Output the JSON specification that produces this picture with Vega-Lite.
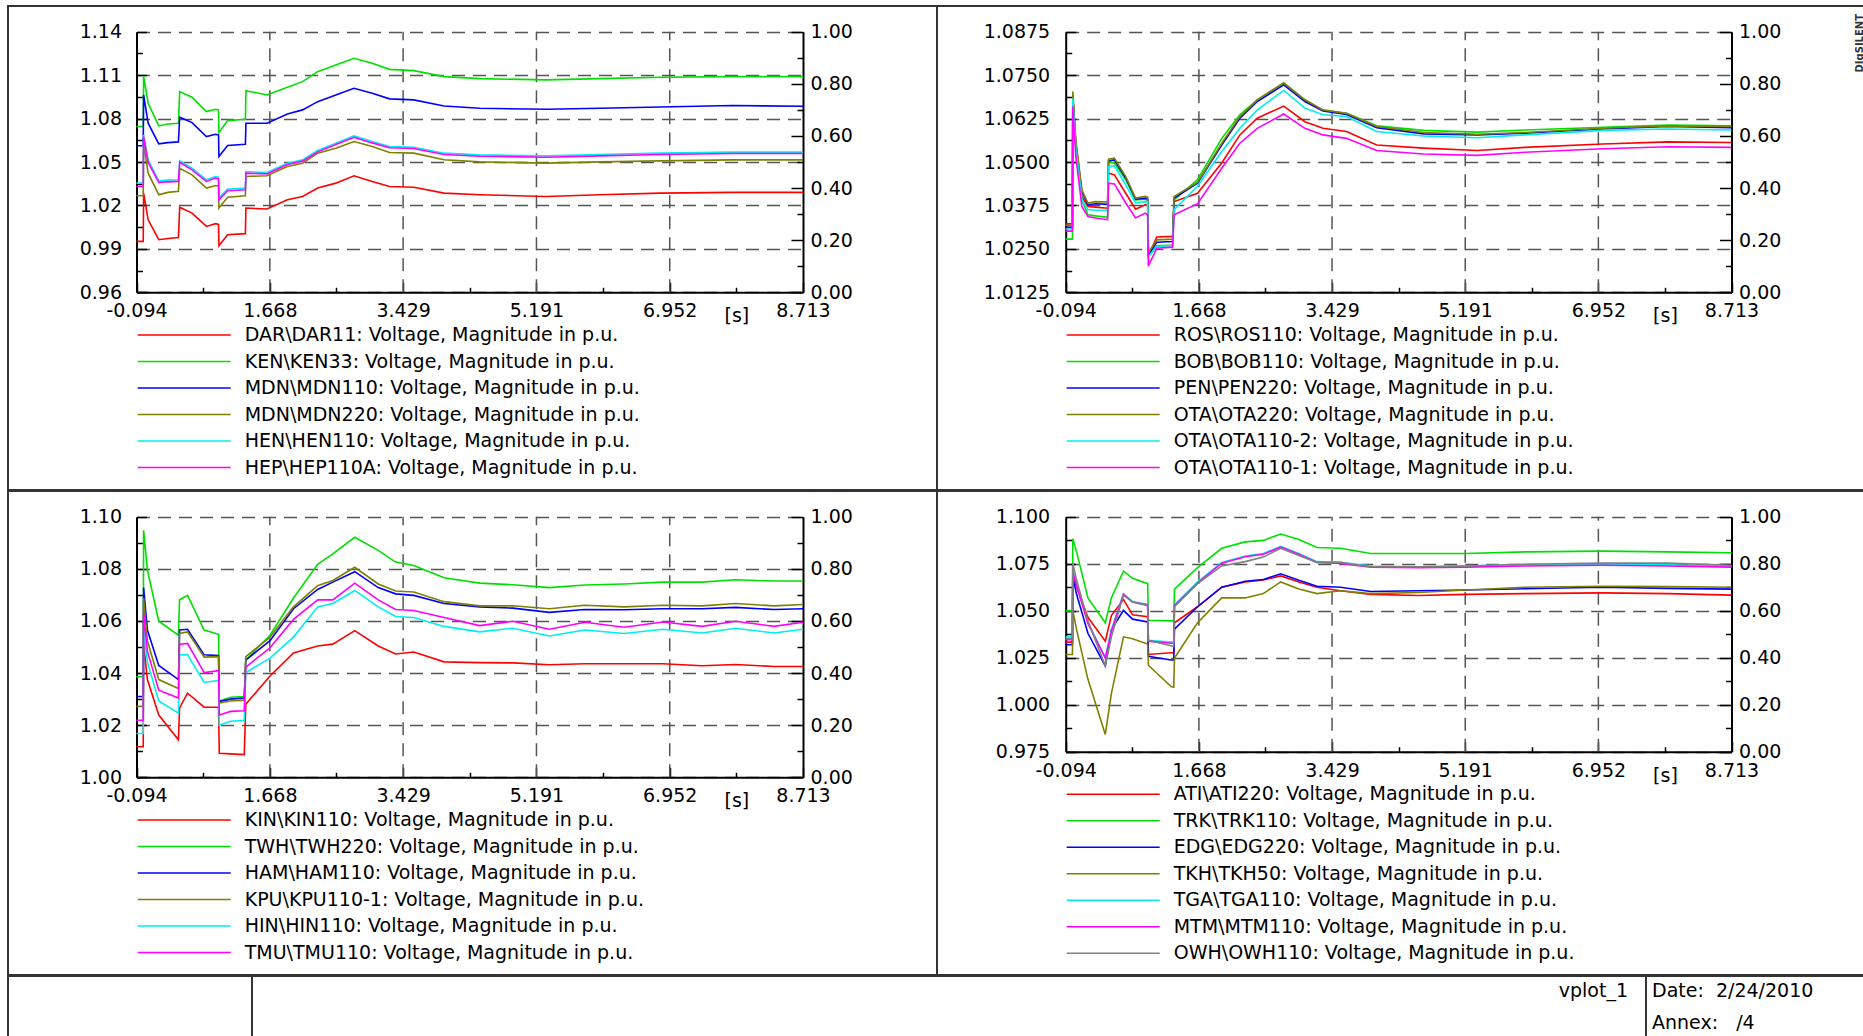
{
"$schema": "https://vega.github.io/schema/vega-lite/v6.json",
"background": "white",
"padding": {"left": 7, "top": 5, "right": 0, "bottom": 0},
"config": {
  "view": {"stroke": "#333333", "strokeWidth": 2},
  "axis": {"labelFont": "DejaVu Sans", "labelFontSize": 19, "labelColor": "#000000", "domainColor": "#000000", "domainWidth": 2, "tickColor": "#000000", "tickWidth": 1.5, "gridColor": "#555555", "gridWidth": 1.5, "gridDash": [13, 8], "labelFlush": false, "labelOverlap": false, "labelBound": false},
  "legend": {"orient": "none", "direction": "vertical", "symbolType": "stroke", "symbolSize": 8649, "symbolStrokeWidth": 1.5, "labelFont": "DejaVu Sans", "labelFontSize": 19, "labelColor": "#000000", "labelOffset": 13, "rowPadding": 6.5, "padding": 0, "clipHeight": 19, "labelLimit": 0},
  "title": {"font": "DejaVu Sans", "fontWeight": "normal", "color": "#000000"}
},
"datasets": {
"grid": [{"g":1.668},{"g":3.429},{"g":5.191},{"g":6.952}],
"q1": [
{"s":"DAR\\DAR11","t":-0.094,"v":0.9952},{"s":"DAR\\DAR11","t":-0.005,"v":0.9952},{"s":"DAR\\DAR11","t":0,"v":1.0285},{"s":"DAR\\DAR11","t":0.06,"v":1.0101},{"s":"DAR\\DAR11","t":0.2,"v":0.9963},{"s":"DAR\\DAR11","t":0.32,"v":0.9972},{"s":"DAR\\DAR11","t":0.46,"v":0.9979},{"s":"DAR\\DAR11","t":0.477,"v":1.0188},{"s":"DAR\\DAR11","t":0.64,"v":1.0147},{"s":"DAR\\DAR11","t":0.83,"v":1.0055},{"s":"DAR\\DAR11","t":0.95,"v":1.0074},{"s":"DAR\\DAR11","t":0.99,"v":1.0069},{"s":"DAR\\DAR11","t":0.995,"v":0.9922},{"s":"DAR\\DAR11","t":1.11,"v":0.9998},{"s":"DAR\\DAR11","t":1.345,"v":1.0005},{"s":"DAR\\DAR11","t":1.352,"v":1.0182},{"s":"DAR\\DAR11","t":1.63,"v":1.0175},{"s":"DAR\\DAR11","t":1.9,"v":1.0239},{"s":"DAR\\DAR11","t":2.1,"v":1.0262},{"s":"DAR\\DAR11","t":2.3,"v":1.032},{"s":"DAR\\DAR11","t":2.54,"v":1.0354},{"s":"DAR\\DAR11","t":2.78,"v":1.0405},{"s":"DAR\\DAR11","t":3.02,"v":1.0365},{"s":"DAR\\DAR11","t":3.25,"v":1.0331},{"s":"DAR\\DAR11","t":3.57,"v":1.0326},{"s":"DAR\\DAR11","t":3.97,"v":1.0285},{"s":"DAR\\DAR11","t":4.44,"v":1.0274},{"s":"DAR\\DAR11","t":5.32,"v":1.0262},{"s":"DAR\\DAR11","t":6.03,"v":1.0274},{"s":"DAR\\DAR11","t":6.83,"v":1.0285},{"s":"DAR\\DAR11","t":7.78,"v":1.029},{"s":"DAR\\DAR11","t":8.713,"v":1.029},
{"s":"KEN\\KEN33","t":-0.094,"v":1.0745},{"s":"KEN\\KEN33","t":-0.005,"v":1.0745},{"s":"KEN\\KEN33","t":0,"v":1.1094},{"s":"KEN\\KEN33","t":0.06,"v":1.0906},{"s":"KEN\\KEN33","t":0.2,"v":1.0749},{"s":"KEN\\KEN33","t":0.32,"v":1.0763},{"s":"KEN\\KEN33","t":0.46,"v":1.0768},{"s":"KEN\\KEN33","t":0.477,"v":1.0986},{"s":"KEN\\KEN33","t":0.64,"v":1.0947},{"s":"KEN\\KEN33","t":0.83,"v":1.0848},{"s":"KEN\\KEN33","t":0.95,"v":1.0864},{"s":"KEN\\KEN33","t":0.99,"v":1.086},{"s":"KEN\\KEN33","t":0.995,"v":1.0703},{"s":"KEN\\KEN33","t":1.11,"v":1.0786},{"s":"KEN\\KEN33","t":1.345,"v":1.0795},{"s":"KEN\\KEN33","t":1.352,"v":1.0993},{"s":"KEN\\KEN33","t":1.63,"v":1.0963},{"s":"KEN\\KEN33","t":1.9,"v":1.1016},{"s":"KEN\\KEN33","t":2.1,"v":1.1055},{"s":"KEN\\KEN33","t":2.3,"v":1.1124},{"s":"KEN\\KEN33","t":2.54,"v":1.117},{"s":"KEN\\KEN33","t":2.78,"v":1.1216},{"s":"KEN\\KEN33","t":3.02,"v":1.1182},{"s":"KEN\\KEN33","t":3.25,"v":1.114},{"s":"KEN\\KEN33","t":3.57,"v":1.1131},{"s":"KEN\\KEN33","t":3.97,"v":1.109},{"s":"KEN\\KEN33","t":4.44,"v":1.1076},{"s":"KEN\\KEN33","t":5.32,"v":1.1067},{"s":"KEN\\KEN33","t":6.03,"v":1.1076},{"s":"KEN\\KEN33","t":6.83,"v":1.1085},{"s":"KEN\\KEN33","t":7.78,"v":1.109},{"s":"KEN\\KEN33","t":8.713,"v":1.109},
{"s":"MDN\\MDN110","t":-0.094,"v":1.0612},{"s":"MDN\\MDN110","t":-0.005,"v":1.0612},{"s":"MDN\\MDN110","t":0,"v":1.0963},{"s":"MDN\\MDN110","t":0.06,"v":1.0768},{"s":"MDN\\MDN110","t":0.2,"v":1.0625},{"s":"MDN\\MDN110","t":0.32,"v":1.0634},{"s":"MDN\\MDN110","t":0.46,"v":1.0639},{"s":"MDN\\MDN110","t":0.477,"v":1.0809},{"s":"MDN\\MDN110","t":0.64,"v":1.0772},{"s":"MDN\\MDN110","t":0.83,"v":1.0676},{"s":"MDN\\MDN110","t":0.95,"v":1.0692},{"s":"MDN\\MDN110","t":0.99,"v":1.0687},{"s":"MDN\\MDN110","t":0.995,"v":1.0538},{"s":"MDN\\MDN110","t":1.11,"v":1.0614},{"s":"MDN\\MDN110","t":1.345,"v":1.0623},{"s":"MDN\\MDN110","t":1.352,"v":1.0768},{"s":"MDN\\MDN110","t":1.63,"v":1.0768},{"s":"MDN\\MDN110","t":1.9,"v":1.0832},{"s":"MDN\\MDN110","t":2.1,"v":1.086},{"s":"MDN\\MDN110","t":2.3,"v":1.0917},{"s":"MDN\\MDN110","t":2.54,"v":1.0963},{"s":"MDN\\MDN110","t":2.78,"v":1.1009},{"s":"MDN\\MDN110","t":3.02,"v":1.0975},{"s":"MDN\\MDN110","t":3.25,"v":1.0936},{"s":"MDN\\MDN110","t":3.57,"v":1.0929},{"s":"MDN\\MDN110","t":3.97,"v":1.0887},{"s":"MDN\\MDN110","t":4.44,"v":1.0871},{"s":"MDN\\MDN110","t":5.32,"v":1.0864},{"s":"MDN\\MDN110","t":6.03,"v":1.0871},{"s":"MDN\\MDN110","t":6.83,"v":1.088},{"s":"MDN\\MDN110","t":7.78,"v":1.089},{"s":"MDN\\MDN110","t":8.713,"v":1.0885},
{"s":"MDN\\MDN220","t":-0.094,"v":1.0267},{"s":"MDN\\MDN220","t":-0.005,"v":1.0267},{"s":"MDN\\MDN220","t":0,"v":1.063},{"s":"MDN\\MDN220","t":0.06,"v":1.0423},{"s":"MDN\\MDN220","t":0.2,"v":1.0274},{"s":"MDN\\MDN220","t":0.32,"v":1.029},{"s":"MDN\\MDN220","t":0.46,"v":1.0297},{"s":"MDN\\MDN220","t":0.477,"v":1.0457},{"s":"MDN\\MDN220","t":0.64,"v":1.0411},{"s":"MDN\\MDN220","t":0.83,"v":1.032},{"s":"MDN\\MDN220","t":0.95,"v":1.0338},{"s":"MDN\\MDN220","t":0.99,"v":1.0334},{"s":"MDN\\MDN220","t":0.995,"v":1.0182},{"s":"MDN\\MDN220","t":1.11,"v":1.0257},{"s":"MDN\\MDN220","t":1.345,"v":1.0267},{"s":"MDN\\MDN220","t":1.352,"v":1.04},{"s":"MDN\\MDN220","t":1.63,"v":1.0405},{"s":"MDN\\MDN220","t":1.9,"v":1.0469},{"s":"MDN\\MDN220","t":2.1,"v":1.0492},{"s":"MDN\\MDN220","t":2.3,"v":1.0561},{"s":"MDN\\MDN220","t":2.54,"v":1.0595},{"s":"MDN\\MDN220","t":2.78,"v":1.0641},{"s":"MDN\\MDN220","t":3.02,"v":1.0607},{"s":"MDN\\MDN220","t":3.25,"v":1.0566},{"s":"MDN\\MDN220","t":3.57,"v":1.0561},{"s":"MDN\\MDN220","t":3.97,"v":1.0515},{"s":"MDN\\MDN220","t":4.44,"v":1.0501},{"s":"MDN\\MDN220","t":5.32,"v":1.0492},{"s":"MDN\\MDN220","t":6.03,"v":1.0501},{"s":"MDN\\MDN220","t":6.83,"v":1.0508},{"s":"MDN\\MDN220","t":7.78,"v":1.0515},{"s":"MDN\\MDN220","t":8.713,"v":1.0515},
{"s":"HEN\\HEN110","t":-0.094,"v":1.0354},{"s":"HEN\\HEN110","t":-0.005,"v":1.0354},{"s":"HEN\\HEN110","t":0,"v":1.0687},{"s":"HEN\\HEN110","t":0.06,"v":1.0515},{"s":"HEN\\HEN110","t":0.2,"v":1.037},{"s":"HEN\\HEN110","t":0.32,"v":1.0375},{"s":"HEN\\HEN110","t":0.46,"v":1.0377},{"s":"HEN\\HEN110","t":0.477,"v":1.0508},{"s":"HEN\\HEN110","t":0.64,"v":1.0457},{"s":"HEN\\HEN110","t":0.83,"v":1.0377},{"s":"HEN\\HEN110","t":0.95,"v":1.04},{"s":"HEN\\HEN110","t":0.99,"v":1.0395},{"s":"HEN\\HEN110","t":0.995,"v":1.0251},{"s":"HEN\\HEN110","t":1.11,"v":1.0313},{"s":"HEN\\HEN110","t":1.345,"v":1.032},{"s":"HEN\\HEN110","t":1.352,"v":1.0434},{"s":"HEN\\HEN110","t":1.63,"v":1.0427},{"s":"HEN\\HEN110","t":1.9,"v":1.0492},{"s":"HEN\\HEN110","t":2.1,"v":1.0515},{"s":"HEN\\HEN110","t":2.3,"v":1.0579},{"s":"HEN\\HEN110","t":2.54,"v":1.063},{"s":"HEN\\HEN110","t":2.78,"v":1.068},{"s":"HEN\\HEN110","t":3.02,"v":1.0641},{"s":"HEN\\HEN110","t":3.25,"v":1.0607},{"s":"HEN\\HEN110","t":3.57,"v":1.0602},{"s":"HEN\\HEN110","t":3.97,"v":1.0561},{"s":"HEN\\HEN110","t":4.44,"v":1.0549},{"s":"HEN\\HEN110","t":5.32,"v":1.0542},{"s":"HEN\\HEN110","t":6.03,"v":1.0552},{"s":"HEN\\HEN110","t":6.83,"v":1.0561},{"s":"HEN\\HEN110","t":7.78,"v":1.0568},{"s":"HEN\\HEN110","t":8.713,"v":1.0568},
{"s":"HEP\\HEP110A","t":-0.094,"v":1.0331},{"s":"HEP\\HEP110A","t":-0.005,"v":1.0331},{"s":"HEP\\HEP110A","t":0,"v":1.0676},{"s":"HEP\\HEP110A","t":0.06,"v":1.0497},{"s":"HEP\\HEP110A","t":0.2,"v":1.0359},{"s":"HEP\\HEP110A","t":0.32,"v":1.0363},{"s":"HEP\\HEP110A","t":0.46,"v":1.0366},{"s":"HEP\\HEP110A","t":0.477,"v":1.0497},{"s":"HEP\\HEP110A","t":0.64,"v":1.0446},{"s":"HEP\\HEP110A","t":0.83,"v":1.0366},{"s":"HEP\\HEP110A","t":0.95,"v":1.0389},{"s":"HEP\\HEP110A","t":0.99,"v":1.0384},{"s":"HEP\\HEP110A","t":0.995,"v":1.0239},{"s":"HEP\\HEP110A","t":1.11,"v":1.0301},{"s":"HEP\\HEP110A","t":1.345,"v":1.0308},{"s":"HEP\\HEP110A","t":1.352,"v":1.0423},{"s":"HEP\\HEP110A","t":1.63,"v":1.0418},{"s":"HEP\\HEP110A","t":1.9,"v":1.0483},{"s":"HEP\\HEP110A","t":2.1,"v":1.0506},{"s":"HEP\\HEP110A","t":2.3,"v":1.057},{"s":"HEP\\HEP110A","t":2.54,"v":1.0621},{"s":"HEP\\HEP110A","t":2.78,"v":1.0671},{"s":"HEP\\HEP110A","t":3.02,"v":1.0632},{"s":"HEP\\HEP110A","t":3.25,"v":1.0598},{"s":"HEP\\HEP110A","t":3.57,"v":1.0593},{"s":"HEP\\HEP110A","t":3.97,"v":1.0552},{"s":"HEP\\HEP110A","t":4.44,"v":1.054},{"s":"HEP\\HEP110A","t":5.32,"v":1.0533},{"s":"HEP\\HEP110A","t":6.03,"v":1.0542},{"s":"HEP\\HEP110A","t":6.83,"v":1.0552},{"s":"HEP\\HEP110A","t":7.78,"v":1.0559},{"s":"HEP\\HEP110A","t":8.713,"v":1.0559}
],
"q2": [
{"s":"ROS\\ROS110","t":-0.094,"v":1.0322},{"s":"ROS\\ROS110","t":-0.005,"v":1.0322},{"s":"ROS\\ROS110","t":0,"v":1.0679},{"s":"ROS\\ROS110","t":0.04,"v":1.0545},{"s":"ROS\\ROS110","t":0.12,"v":1.0401},{"s":"ROS\\ROS110","t":0.2,"v":1.0372},{"s":"ROS\\ROS110","t":0.3,"v":1.037},{"s":"ROS\\ROS110","t":0.46,"v":1.0367},{"s":"ROS\\ROS110","t":0.473,"v":1.0468},{"s":"ROS\\ROS110","t":0.55,"v":1.0463},{"s":"ROS\\ROS110","t":0.7,"v":1.041},{"s":"ROS\\ROS110","t":0.83,"v":1.0364},{"s":"ROS\\ROS110","t":0.96,"v":1.0377},{"s":"ROS\\ROS110","t":0.99,"v":1.0374},{"s":"ROS\\ROS110","t":1.0,"v":1.023},{"s":"ROS\\ROS110","t":1.11,"v":1.0284},{"s":"ROS\\ROS110","t":1.32,"v":1.0286},{"s":"ROS\\ROS110","t":1.34,"v":1.0386},{"s":"ROS\\ROS110","t":1.65,"v":1.041},{"s":"ROS\\ROS110","t":1.97,"v":1.0497},{"s":"ROS\\ROS110","t":2.21,"v":1.0578},{"s":"ROS\\ROS110","t":2.44,"v":1.0626},{"s":"ROS\\ROS110","t":2.79,"v":1.0661},{"s":"ROS\\ROS110","t":3.07,"v":1.0616},{"s":"ROS\\ROS110","t":3.31,"v":1.0597},{"s":"ROS\\ROS110","t":3.62,"v":1.0588},{"s":"ROS\\ROS110","t":4.02,"v":1.0549},{"s":"ROS\\ROS110","t":4.64,"v":1.054},{"s":"ROS\\ROS110","t":5.35,"v":1.0533},{"s":"ROS\\ROS110","t":5.98,"v":1.0542},{"s":"ROS\\ROS110","t":7.01,"v":1.0552},{"s":"ROS\\ROS110","t":7.87,"v":1.0558},{"s":"ROS\\ROS110","t":8.713,"v":1.0556},
{"s":"BOB\\BOB110","t":-0.094,"v":1.0278},{"s":"BOB\\BOB110","t":-0.005,"v":1.0278},{"s":"BOB\\BOB110","t":0,"v":1.0688},{"s":"BOB\\BOB110","t":0.04,"v":1.0545},{"s":"BOB\\BOB110","t":0.12,"v":1.0391},{"s":"BOB\\BOB110","t":0.2,"v":1.0348},{"s":"BOB\\BOB110","t":0.3,"v":1.0345},{"s":"BOB\\BOB110","t":0.46,"v":1.0341},{"s":"BOB\\BOB110","t":0.473,"v":1.0501},{"s":"BOB\\BOB110","t":0.55,"v":1.0497},{"s":"BOB\\BOB110","t":0.7,"v":1.0449},{"s":"BOB\\BOB110","t":0.83,"v":1.0391},{"s":"BOB\\BOB110","t":0.96,"v":1.0393},{"s":"BOB\\BOB110","t":0.99,"v":1.0391},{"s":"BOB\\BOB110","t":1.0,"v":1.0228},{"s":"BOB\\BOB110","t":1.11,"v":1.0259},{"s":"BOB\\BOB110","t":1.32,"v":1.0261},{"s":"BOB\\BOB110","t":1.34,"v":1.0391},{"s":"BOB\\BOB110","t":1.65,"v":1.0449},{"s":"BOB\\BOB110","t":1.97,"v":1.0568},{"s":"BOB\\BOB110","t":2.21,"v":1.0636},{"s":"BOB\\BOB110","t":2.44,"v":1.0679},{"s":"BOB\\BOB110","t":2.79,"v":1.0727},{"s":"BOB\\BOB110","t":3.07,"v":1.0679},{"s":"BOB\\BOB110","t":3.31,"v":1.0648},{"s":"BOB\\BOB110","t":3.62,"v":1.064},{"s":"BOB\\BOB110","t":4.02,"v":1.0604},{"s":"BOB\\BOB110","t":4.64,"v":1.0591},{"s":"BOB\\BOB110","t":5.35,"v":1.0586},{"s":"BOB\\BOB110","t":5.98,"v":1.0592},{"s":"BOB\\BOB110","t":7.01,"v":1.06},{"s":"BOB\\BOB110","t":7.87,"v":1.0606},{"s":"BOB\\BOB110","t":8.713,"v":1.0604},
{"s":"PEN\\PEN220","t":-0.094,"v":1.0312},{"s":"PEN\\PEN220","t":-0.005,"v":1.0312},{"s":"PEN\\PEN220","t":0,"v":1.0693},{"s":"PEN\\PEN220","t":0.04,"v":1.0554},{"s":"PEN\\PEN220","t":0.12,"v":1.0415},{"s":"PEN\\PEN220","t":0.2,"v":1.0377},{"s":"PEN\\PEN220","t":0.3,"v":1.038},{"s":"PEN\\PEN220","t":0.46,"v":1.0378},{"s":"PEN\\PEN220","t":0.473,"v":1.0504},{"s":"PEN\\PEN220","t":0.55,"v":1.0506},{"s":"PEN\\PEN220","t":0.7,"v":1.0454},{"s":"PEN\\PEN220","t":0.83,"v":1.0393},{"s":"PEN\\PEN220","t":0.96,"v":1.0396},{"s":"PEN\\PEN220","t":0.99,"v":1.0394},{"s":"PEN\\PEN220","t":1.0,"v":1.0233},{"s":"PEN\\PEN220","t":1.11,"v":1.0269},{"s":"PEN\\PEN220","t":1.32,"v":1.0271},{"s":"PEN\\PEN220","t":1.34,"v":1.0396},{"s":"PEN\\PEN220","t":1.65,"v":1.0439},{"s":"PEN\\PEN220","t":1.97,"v":1.0549},{"s":"PEN\\PEN220","t":2.21,"v":1.0626},{"s":"PEN\\PEN220","t":2.44,"v":1.0674},{"s":"PEN\\PEN220","t":2.79,"v":1.0722},{"s":"PEN\\PEN220","t":3.07,"v":1.0674},{"s":"PEN\\PEN220","t":3.31,"v":1.0647},{"s":"PEN\\PEN220","t":3.62,"v":1.0637},{"s":"PEN\\PEN220","t":4.02,"v":1.0599},{"s":"PEN\\PEN220","t":4.64,"v":1.0581},{"s":"PEN\\PEN220","t":5.35,"v":1.0578},{"s":"PEN\\PEN220","t":5.98,"v":1.0583},{"s":"PEN\\PEN220","t":7.01,"v":1.0595},{"s":"PEN\\PEN220","t":7.87,"v":1.0602},{"s":"PEN\\PEN220","t":8.713,"v":1.0599},
{"s":"OTA\\OTA220","t":-0.094,"v":1.0318},{"s":"OTA\\OTA220","t":-0.005,"v":1.0318},{"s":"OTA\\OTA220","t":0,"v":1.0703},{"s":"OTA\\OTA220","t":0.04,"v":1.0564},{"s":"OTA\\OTA220","t":0.12,"v":1.042},{"s":"OTA\\OTA220","t":0.2,"v":1.0382},{"s":"OTA\\OTA220","t":0.3,"v":1.0386},{"s":"OTA\\OTA220","t":0.46,"v":1.0385},{"s":"OTA\\OTA220","t":0.473,"v":1.0508},{"s":"OTA\\OTA220","t":0.55,"v":1.0511},{"s":"OTA\\OTA220","t":0.7,"v":1.0458},{"s":"OTA\\OTA220","t":0.83,"v":1.0396},{"s":"OTA\\OTA220","t":0.96,"v":1.0401},{"s":"OTA\\OTA220","t":0.99,"v":1.0399},{"s":"OTA\\OTA220","t":1.0,"v":1.0238},{"s":"OTA\\OTA220","t":1.11,"v":1.0276},{"s":"OTA\\OTA220","t":1.32,"v":1.0278},{"s":"OTA\\OTA220","t":1.34,"v":1.0401},{"s":"OTA\\OTA220","t":1.65,"v":1.0441},{"s":"OTA\\OTA220","t":1.97,"v":1.0554},{"s":"OTA\\OTA220","t":2.21,"v":1.0631},{"s":"OTA\\OTA220","t":2.44,"v":1.0679},{"s":"OTA\\OTA220","t":2.79,"v":1.0728},{"s":"OTA\\OTA220","t":3.07,"v":1.0679},{"s":"OTA\\OTA220","t":3.31,"v":1.065},{"s":"OTA\\OTA220","t":3.62,"v":1.064},{"s":"OTA\\OTA220","t":4.02,"v":1.0602},{"s":"OTA\\OTA220","t":4.64,"v":1.0585},{"s":"OTA\\OTA220","t":5.35,"v":1.058},{"s":"OTA\\OTA220","t":5.98,"v":1.0585},{"s":"OTA\\OTA220","t":7.01,"v":1.0597},{"s":"OTA\\OTA220","t":7.87,"v":1.0604},{"s":"OTA\\OTA220","t":8.713,"v":1.0602},
{"s":"OTA\\OTA110-2","t":-0.094,"v":1.0307},{"s":"OTA\\OTA110-2","t":-0.005,"v":1.0307},{"s":"OTA\\OTA110-2","t":0,"v":1.0683},{"s":"OTA\\OTA110-2","t":0.04,"v":1.054},{"s":"OTA\\OTA110-2","t":0.12,"v":1.0391},{"s":"OTA\\OTA110-2","t":0.2,"v":1.0363},{"s":"OTA\\OTA110-2","t":0.3,"v":1.0361},{"s":"OTA\\OTA110-2","t":0.46,"v":1.0361},{"s":"OTA\\OTA110-2","t":0.473,"v":1.0487},{"s":"OTA\\OTA110-2","t":0.55,"v":1.0489},{"s":"OTA\\OTA110-2","t":0.7,"v":1.0434},{"s":"OTA\\OTA110-2","t":0.83,"v":1.0382},{"s":"OTA\\OTA110-2","t":0.96,"v":1.0386},{"s":"OTA\\OTA110-2","t":0.99,"v":1.0385},{"s":"OTA\\OTA110-2","t":1.0,"v":1.0227},{"s":"OTA\\OTA110-2","t":1.11,"v":1.0257},{"s":"OTA\\OTA110-2","t":1.32,"v":1.0259},{"s":"OTA\\OTA110-2","t":1.34,"v":1.0363},{"s":"OTA\\OTA110-2","t":1.65,"v":1.043},{"s":"OTA\\OTA110-2","t":1.97,"v":1.053},{"s":"OTA\\OTA110-2","t":2.21,"v":1.0597},{"s":"OTA\\OTA110-2","t":2.44,"v":1.065},{"s":"OTA\\OTA110-2","t":2.79,"v":1.0706},{"s":"OTA\\OTA110-2","t":3.07,"v":1.0655},{"s":"OTA\\OTA110-2","t":3.31,"v":1.0636},{"s":"OTA\\OTA110-2","t":3.62,"v":1.0631},{"s":"OTA\\OTA110-2","t":4.02,"v":1.0588},{"s":"OTA\\OTA110-2","t":4.64,"v":1.0575},{"s":"OTA\\OTA110-2","t":5.35,"v":1.057},{"s":"OTA\\OTA110-2","t":5.98,"v":1.0578},{"s":"OTA\\OTA110-2","t":7.01,"v":1.0591},{"s":"OTA\\OTA110-2","t":7.87,"v":1.0595},{"s":"OTA\\OTA110-2","t":8.713,"v":1.0592},
{"s":"OTA\\OTA110-1","t":-0.094,"v":1.0301},{"s":"OTA\\OTA110-1","t":-0.005,"v":1.0301},{"s":"OTA\\OTA110-1","t":0,"v":1.066},{"s":"OTA\\OTA110-1","t":0.04,"v":1.0516},{"s":"OTA\\OTA110-1","t":0.12,"v":1.0372},{"s":"OTA\\OTA110-1","t":0.2,"v":1.0343},{"s":"OTA\\OTA110-1","t":0.3,"v":1.0339},{"s":"OTA\\OTA110-1","t":0.46,"v":1.0334},{"s":"OTA\\OTA110-1","t":0.473,"v":1.0439},{"s":"OTA\\OTA110-1","t":0.55,"v":1.0437},{"s":"OTA\\OTA110-1","t":0.7,"v":1.0382},{"s":"OTA\\OTA110-1","t":0.83,"v":1.0339},{"s":"OTA\\OTA110-1","t":0.96,"v":1.0353},{"s":"OTA\\OTA110-1","t":0.99,"v":1.0348},{"s":"OTA\\OTA110-1","t":1.0,"v":1.02},{"s":"OTA\\OTA110-1","t":1.11,"v":1.0252},{"s":"OTA\\OTA110-1","t":1.32,"v":1.0255},{"s":"OTA\\OTA110-1","t":1.34,"v":1.0348},{"s":"OTA\\OTA110-1","t":1.65,"v":1.038},{"s":"OTA\\OTA110-1","t":1.97,"v":1.0482},{"s":"OTA\\OTA110-1","t":2.21,"v":1.0554},{"s":"OTA\\OTA110-1","t":2.44,"v":1.0597},{"s":"OTA\\OTA110-1","t":2.79,"v":1.0638},{"s":"OTA\\OTA110-1","t":3.07,"v":1.0597},{"s":"OTA\\OTA110-1","t":3.31,"v":1.0578},{"s":"OTA\\OTA110-1","t":3.62,"v":1.0568},{"s":"OTA\\OTA110-1","t":4.02,"v":1.0533},{"s":"OTA\\OTA110-1","t":4.64,"v":1.0523},{"s":"OTA\\OTA110-1","t":5.35,"v":1.0519},{"s":"OTA\\OTA110-1","t":5.98,"v":1.0528},{"s":"OTA\\OTA110-1","t":7.01,"v":1.0538},{"s":"OTA\\OTA110-1","t":7.87,"v":1.0544},{"s":"OTA\\OTA110-1","t":8.713,"v":1.0542}
],
"q3": [
{"s":"KIN\\KIN110","t":-0.094,"v":1.0117},{"s":"KIN\\KIN110","t":-0.005,"v":1.0117},{"s":"KIN\\KIN110","t":0,"v":1.0511},{"s":"KIN\\KIN110","t":0.05,"v":1.0375},{"s":"KIN\\KIN110","t":0.2,"v":1.0239},{"s":"KIN\\KIN110","t":0.46,"v":1.0144},{"s":"KIN\\KIN110","t":0.475,"v":1.0266},{"s":"KIN\\KIN110","t":0.58,"v":1.0323},{"s":"KIN\\KIN110","t":0.8,"v":1.0269},{"s":"KIN\\KIN110","t":0.99,"v":1.0269},{"s":"KIN\\KIN110","t":1.0,"v":1.0092},{"s":"KIN\\KIN110","t":1.15,"v":1.009},{"s":"KIN\\KIN110","t":1.33,"v":1.0087},{"s":"KIN\\KIN110","t":1.35,"v":1.028},{"s":"KIN\\KIN110","t":1.67,"v":1.0389},{"s":"KIN\\KIN110","t":1.98,"v":1.0477},{"s":"KIN\\KIN110","t":2.3,"v":1.0504},{"s":"KIN\\KIN110","t":2.5,"v":1.0511},{"s":"KIN\\KIN110","t":2.79,"v":1.0563},{"s":"KIN\\KIN110","t":3.1,"v":1.0504},{"s":"KIN\\KIN110","t":3.33,"v":1.0473},{"s":"KIN\\KIN110","t":3.57,"v":1.0481},{"s":"KIN\\KIN110","t":3.97,"v":1.0443},{"s":"KIN\\KIN110","t":4.44,"v":1.044},{"s":"KIN\\KIN110","t":4.88,"v":1.0439},{"s":"KIN\\KIN110","t":5.36,"v":1.0432},{"s":"KIN\\KIN110","t":5.83,"v":1.0436},{"s":"KIN\\KIN110","t":6.35,"v":1.0436},{"s":"KIN\\KIN110","t":6.86,"v":1.0436},{"s":"KIN\\KIN110","t":7.38,"v":1.0428},{"s":"KIN\\KIN110","t":7.82,"v":1.0433},{"s":"KIN\\KIN110","t":8.33,"v":1.0425},{"s":"KIN\\KIN110","t":8.713,"v":1.0425},
{"s":"TWH\\TWH220","t":-0.094,"v":1.0386},{"s":"TWH\\TWH220","t":-0.005,"v":1.0386},{"s":"TWH\\TWH220","t":0,"v":1.0948},{"s":"TWH\\TWH220","t":0.05,"v":1.0796},{"s":"TWH\\TWH220","t":0.2,"v":1.0599},{"s":"TWH\\TWH220","t":0.46,"v":1.0545},{"s":"TWH\\TWH220","t":0.475,"v":1.0681},{"s":"TWH\\TWH220","t":0.58,"v":1.0698},{"s":"TWH\\TWH220","t":0.8,"v":1.0565},{"s":"TWH\\TWH220","t":0.99,"v":1.0549},{"s":"TWH\\TWH220","t":1.0,"v":1.0293},{"s":"TWH\\TWH220","t":1.15,"v":1.0307},{"s":"TWH\\TWH220","t":1.33,"v":1.031},{"s":"TWH\\TWH220","t":1.35,"v":1.045},{"s":"TWH\\TWH220","t":1.67,"v":1.0545},{"s":"TWH\\TWH220","t":1.98,"v":1.0688},{"s":"TWH\\TWH220","t":2.3,"v":1.0817},{"s":"TWH\\TWH220","t":2.5,"v":1.0857},{"s":"TWH\\TWH220","t":2.79,"v":1.0921},{"s":"TWH\\TWH220","t":3.1,"v":1.0871},{"s":"TWH\\TWH220","t":3.33,"v":1.0826},{"s":"TWH\\TWH220","t":3.57,"v":1.0813},{"s":"TWH\\TWH220","t":3.97,"v":1.0766},{"s":"TWH\\TWH220","t":4.44,"v":1.0745},{"s":"TWH\\TWH220","t":4.88,"v":1.0739},{"s":"TWH\\TWH220","t":5.36,"v":1.0728},{"s":"TWH\\TWH220","t":5.83,"v":1.0738},{"s":"TWH\\TWH220","t":6.35,"v":1.0742},{"s":"TWH\\TWH220","t":6.86,"v":1.0749},{"s":"TWH\\TWH220","t":7.38,"v":1.0749},{"s":"TWH\\TWH220","t":7.82,"v":1.0758},{"s":"TWH\\TWH220","t":8.33,"v":1.0753},{"s":"TWH\\TWH220","t":8.713,"v":1.0753},
{"s":"HAM\\HAM110","t":-0.094,"v":1.031},{"s":"HAM\\HAM110","t":-0.005,"v":1.031},{"s":"HAM\\HAM110","t":0,"v":1.0728},{"s":"HAM\\HAM110","t":0.05,"v":1.0565},{"s":"HAM\\HAM110","t":0.2,"v":1.0429},{"s":"HAM\\HAM110","t":0.46,"v":1.0375},{"s":"HAM\\HAM110","t":0.475,"v":1.0565},{"s":"HAM\\HAM110","t":0.58,"v":1.0568},{"s":"HAM\\HAM110","t":0.8,"v":1.047},{"s":"HAM\\HAM110","t":0.99,"v":1.0467},{"s":"HAM\\HAM110","t":1.0,"v":1.0291},{"s":"HAM\\HAM110","t":1.15,"v":1.03},{"s":"HAM\\HAM110","t":1.33,"v":1.0304},{"s":"HAM\\HAM110","t":1.35,"v":1.045},{"s":"HAM\\HAM110","t":1.67,"v":1.0524},{"s":"HAM\\HAM110","t":1.98,"v":1.0647},{"s":"HAM\\HAM110","t":2.3,"v":1.0721},{"s":"HAM\\HAM110","t":2.5,"v":1.0749},{"s":"HAM\\HAM110","t":2.79,"v":1.0789},{"s":"HAM\\HAM110","t":3.1,"v":1.0728},{"s":"HAM\\HAM110","t":3.33,"v":1.0704},{"s":"HAM\\HAM110","t":3.57,"v":1.0698},{"s":"HAM\\HAM110","t":3.97,"v":1.0667},{"s":"HAM\\HAM110","t":4.44,"v":1.0654},{"s":"HAM\\HAM110","t":4.88,"v":1.0649},{"s":"HAM\\HAM110","t":5.36,"v":1.0633},{"s":"HAM\\HAM110","t":5.83,"v":1.0644},{"s":"HAM\\HAM110","t":6.35,"v":1.0643},{"s":"HAM\\HAM110","t":6.86,"v":1.0647},{"s":"HAM\\HAM110","t":7.38,"v":1.0647},{"s":"HAM\\HAM110","t":7.82,"v":1.0652},{"s":"HAM\\HAM110","t":8.33,"v":1.0644},{"s":"HAM\\HAM110","t":8.713,"v":1.0647},
{"s":"KPU\\KPU110-1","t":-0.094,"v":1.0272},{"s":"KPU\\KPU110-1","t":-0.005,"v":1.0272},{"s":"KPU\\KPU110-1","t":0,"v":1.0688},{"s":"KPU\\KPU110-1","t":0.05,"v":1.0524},{"s":"KPU\\KPU110-1","t":0.2,"v":1.0375},{"s":"KPU\\KPU110-1","t":0.46,"v":1.0341},{"s":"KPU\\KPU110-1","t":0.475,"v":1.0552},{"s":"KPU\\KPU110-1","t":0.58,"v":1.0558},{"s":"KPU\\KPU110-1","t":0.8,"v":1.0461},{"s":"KPU\\KPU110-1","t":0.99,"v":1.0463},{"s":"KPU\\KPU110-1","t":1.0,"v":1.0285},{"s":"KPU\\KPU110-1","t":1.15,"v":1.0293},{"s":"KPU\\KPU110-1","t":1.33,"v":1.0296},{"s":"KPU\\KPU110-1","t":1.35,"v":1.0463},{"s":"KPU\\KPU110-1","t":1.67,"v":1.0538},{"s":"KPU\\KPU110-1","t":1.98,"v":1.0654},{"s":"KPU\\KPU110-1","t":2.3,"v":1.0735},{"s":"KPU\\KPU110-1","t":2.5,"v":1.0755},{"s":"KPU\\KPU110-1","t":2.79,"v":1.0806},{"s":"KPU\\KPU110-1","t":3.1,"v":1.0742},{"s":"KPU\\KPU110-1","t":3.33,"v":1.0715},{"s":"KPU\\KPU110-1","t":3.57,"v":1.0711},{"s":"KPU\\KPU110-1","t":3.97,"v":1.0674},{"s":"KPU\\KPU110-1","t":4.44,"v":1.0658},{"s":"KPU\\KPU110-1","t":4.88,"v":1.0658},{"s":"KPU\\KPU110-1","t":5.36,"v":1.0647},{"s":"KPU\\KPU110-1","t":5.83,"v":1.066},{"s":"KPU\\KPU110-1","t":6.35,"v":1.0654},{"s":"KPU\\KPU110-1","t":6.86,"v":1.066},{"s":"KPU\\KPU110-1","t":7.38,"v":1.0658},{"s":"KPU\\KPU110-1","t":7.82,"v":1.0667},{"s":"KPU\\KPU110-1","t":8.33,"v":1.0658},{"s":"KPU\\KPU110-1","t":8.713,"v":1.0663},
{"s":"HIN\\HIN110","t":-0.094,"v":1.0168},{"s":"HIN\\HIN110","t":-0.005,"v":1.0168},{"s":"HIN\\HIN110","t":0,"v":1.0572},{"s":"HIN\\HIN110","t":0.05,"v":1.0443},{"s":"HIN\\HIN110","t":0.2,"v":1.0293},{"s":"HIN\\HIN110","t":0.46,"v":1.0246},{"s":"HIN\\HIN110","t":0.475,"v":1.047},{"s":"HIN\\HIN110","t":0.58,"v":1.047},{"s":"HIN\\HIN110","t":0.8,"v":1.0364},{"s":"HIN\\HIN110","t":0.99,"v":1.0372},{"s":"HIN\\HIN110","t":1.0,"v":1.0201},{"s":"HIN\\HIN110","t":1.15,"v":1.0215},{"s":"HIN\\HIN110","t":1.33,"v":1.0219},{"s":"HIN\\HIN110","t":1.35,"v":1.0402},{"s":"HIN\\HIN110","t":1.67,"v":1.0457},{"s":"HIN\\HIN110","t":1.98,"v":1.0538},{"s":"HIN\\HIN110","t":2.3,"v":1.0654},{"s":"HIN\\HIN110","t":2.5,"v":1.0667},{"s":"HIN\\HIN110","t":2.79,"v":1.0717},{"s":"HIN\\HIN110","t":3.1,"v":1.0654},{"s":"HIN\\HIN110","t":3.33,"v":1.0617},{"s":"HIN\\HIN110","t":3.57,"v":1.0613},{"s":"HIN\\HIN110","t":3.97,"v":1.0579},{"s":"HIN\\HIN110","t":4.44,"v":1.0558},{"s":"HIN\\HIN110","t":4.88,"v":1.0572},{"s":"HIN\\HIN110","t":5.36,"v":1.0542},{"s":"HIN\\HIN110","t":5.83,"v":1.0565},{"s":"HIN\\HIN110","t":6.35,"v":1.0552},{"s":"HIN\\HIN110","t":6.86,"v":1.0568},{"s":"HIN\\HIN110","t":7.38,"v":1.0554},{"s":"HIN\\HIN110","t":7.82,"v":1.0572},{"s":"HIN\\HIN110","t":8.33,"v":1.0554},{"s":"HIN\\HIN110","t":8.713,"v":1.0568},
{"s":"TMU\\TMU110","t":-0.094,"v":1.0219},{"s":"TMU\\TMU110","t":-0.005,"v":1.0219},{"s":"TMU\\TMU110","t":0,"v":1.0626},{"s":"TMU\\TMU110","t":0.05,"v":1.0484},{"s":"TMU\\TMU110","t":0.2,"v":1.0334},{"s":"TMU\\TMU110","t":0.46,"v":1.0304},{"s":"TMU\\TMU110","t":0.475,"v":1.0511},{"s":"TMU\\TMU110","t":0.58,"v":1.0514},{"s":"TMU\\TMU110","t":0.8,"v":1.0402},{"s":"TMU\\TMU110","t":0.99,"v":1.0409},{"s":"TMU\\TMU110","t":1.0,"v":1.0239},{"s":"TMU\\TMU110","t":1.15,"v":1.0253},{"s":"TMU\\TMU110","t":1.33,"v":1.0255},{"s":"TMU\\TMU110","t":1.35,"v":1.0423},{"s":"TMU\\TMU110","t":1.67,"v":1.0497},{"s":"TMU\\TMU110","t":1.98,"v":1.0606},{"s":"TMU\\TMU110","t":2.3,"v":1.0681},{"s":"TMU\\TMU110","t":2.5,"v":1.0681},{"s":"TMU\\TMU110","t":2.79,"v":1.0745},{"s":"TMU\\TMU110","t":3.1,"v":1.0681},{"s":"TMU\\TMU110","t":3.33,"v":1.0644},{"s":"TMU\\TMU110","t":3.57,"v":1.064},{"s":"TMU\\TMU110","t":3.97,"v":1.0613},{"s":"TMU\\TMU110","t":4.44,"v":1.0582},{"s":"TMU\\TMU110","t":4.88,"v":1.0599},{"s":"TMU\\TMU110","t":5.36,"v":1.0568},{"s":"TMU\\TMU110","t":5.83,"v":1.0595},{"s":"TMU\\TMU110","t":6.35,"v":1.0576},{"s":"TMU\\TMU110","t":6.86,"v":1.0596},{"s":"TMU\\TMU110","t":7.38,"v":1.0579},{"s":"TMU\\TMU110","t":7.82,"v":1.0599},{"s":"TMU\\TMU110","t":8.33,"v":1.0579},{"s":"TMU\\TMU110","t":8.713,"v":1.0595}
],
"q4": [
{"s":"ATI\\ATI220","t":-0.094,"v":1.0333},{"s":"ATI\\ATI220","t":-0.005,"v":1.0333},{"s":"ATI\\ATI220","t":0,"v":1.0691},{"s":"ATI\\ATI220","t":0.05,"v":1.0625},{"s":"ATI\\ATI220","t":0.2,"v":1.0465},{"s":"ATI\\ATI220","t":0.43,"v":1.0338},{"s":"ATI\\ATI220","t":0.51,"v":1.0474},{"s":"ATI\\ATI220","t":0.67,"v":1.0559},{"s":"ATI\\ATI220","t":0.79,"v":1.0478},{"s":"ATI\\ATI220","t":0.99,"v":1.0468},{"s":"ATI\\ATI220","t":1.0,"v":1.0267},{"s":"ATI\\ATI220","t":1.3,"v":1.0276},{"s":"ATI\\ATI220","t":1.335,"v":1.0276},{"s":"ATI\\ATI220","t":1.345,"v":1.0436},{"s":"ATI\\ATI220","t":1.65,"v":1.0521},{"s":"ATI\\ATI220","t":1.97,"v":1.0625},{"s":"ATI\\ATI220","t":2.28,"v":1.0653},{"s":"ATI\\ATI220","t":2.52,"v":1.0663},{"s":"ATI\\ATI220","t":2.75,"v":1.0685},{"s":"ATI\\ATI220","t":2.99,"v":1.0653},{"s":"ATI\\ATI220","t":3.23,"v":1.0625},{"s":"ATI\\ATI220","t":3.54,"v":1.0606},{"s":"ATI\\ATI220","t":3.94,"v":1.0587},{"s":"ATI\\ATI220","t":4.57,"v":1.0581},{"s":"ATI\\ATI220","t":5.2,"v":1.0587},{"s":"ATI\\ATI220","t":5.98,"v":1.0591},{"s":"ATI\\ATI220","t":7.0,"v":1.0595},{"s":"ATI\\ATI220","t":7.87,"v":1.0591},{"s":"ATI\\ATI220","t":8.713,"v":1.0583},
{"s":"TRK\\TRK110","t":-0.094,"v":1.0499},{"s":"TRK\\TRK110","t":-0.005,"v":1.0499},{"s":"TRK\\TRK110","t":0,"v":1.0883},{"s":"TRK\\TRK110","t":0.05,"v":1.0813},{"s":"TRK\\TRK110","t":0.2,"v":1.0568},{"s":"TRK\\TRK110","t":0.43,"v":1.0436},{"s":"TRK\\TRK110","t":0.51,"v":1.0568},{"s":"TRK\\TRK110","t":0.67,"v":1.071},{"s":"TRK\\TRK110","t":0.79,"v":1.0672},{"s":"TRK\\TRK110","t":0.99,"v":1.0644},{"s":"TRK\\TRK110","t":1.0,"v":1.0449},{"s":"TRK\\TRK110","t":1.3,"v":1.0446},{"s":"TRK\\TRK110","t":1.335,"v":1.0446},{"s":"TRK\\TRK110","t":1.345,"v":1.0615},{"s":"TRK\\TRK110","t":1.65,"v":1.0729},{"s":"TRK\\TRK110","t":1.97,"v":1.0832},{"s":"TRK\\TRK110","t":2.28,"v":1.0866},{"s":"TRK\\TRK110","t":2.52,"v":1.0874},{"s":"TRK\\TRK110","t":2.75,"v":1.0908},{"s":"TRK\\TRK110","t":2.99,"v":1.0879},{"s":"TRK\\TRK110","t":3.23,"v":1.0836},{"s":"TRK\\TRK110","t":3.54,"v":1.0832},{"s":"TRK\\TRK110","t":3.94,"v":1.0804},{"s":"TRK\\TRK110","t":4.57,"v":1.0804},{"s":"TRK\\TRK110","t":5.2,"v":1.0804},{"s":"TRK\\TRK110","t":5.98,"v":1.0813},{"s":"TRK\\TRK110","t":7.0,"v":1.0817},{"s":"TRK\\TRK110","t":7.87,"v":1.0813},{"s":"TRK\\TRK110","t":8.713,"v":1.0808},
{"s":"EDG\\EDG220","t":-0.094,"v":1.0319},{"s":"EDG\\EDG220","t":-0.005,"v":1.0319},{"s":"EDG\\EDG220","t":0,"v":1.0678},{"s":"EDG\\EDG220","t":0.05,"v":1.0587},{"s":"EDG\\EDG220","t":0.2,"v":1.038},{"s":"EDG\\EDG220","t":0.43,"v":1.0206},{"s":"EDG\\EDG220","t":0.51,"v":1.0399},{"s":"EDG\\EDG220","t":0.67,"v":1.0502},{"s":"EDG\\EDG220","t":0.79,"v":1.0455},{"s":"EDG\\EDG220","t":0.99,"v":1.044},{"s":"EDG\\EDG220","t":1.0,"v":1.0257},{"s":"EDG\\EDG220","t":1.3,"v":1.0238},{"s":"EDG\\EDG220","t":1.335,"v":1.0238},{"s":"EDG\\EDG220","t":1.345,"v":1.0402},{"s":"EDG\\EDG220","t":1.65,"v":1.0521},{"s":"EDG\\EDG220","t":1.97,"v":1.0625},{"s":"EDG\\EDG220","t":2.28,"v":1.0657},{"s":"EDG\\EDG220","t":2.52,"v":1.0666},{"s":"EDG\\EDG220","t":2.75,"v":1.0696},{"s":"EDG\\EDG220","t":2.99,"v":1.0662},{"s":"EDG\\EDG220","t":3.23,"v":1.063},{"s":"EDG\\EDG220","t":3.54,"v":1.0625},{"s":"EDG\\EDG220","t":3.94,"v":1.0602},{"s":"EDG\\EDG220","t":4.57,"v":1.0606},{"s":"EDG\\EDG220","t":5.2,"v":1.061},{"s":"EDG\\EDG220","t":5.98,"v":1.0617},{"s":"EDG\\EDG220","t":7.0,"v":1.0625},{"s":"EDG\\EDG220","t":7.87,"v":1.0619},{"s":"EDG\\EDG220","t":8.713,"v":1.0615},
{"s":"TKH\\TKH50","t":-0.094,"v":1.0267},{"s":"TKH\\TKH50","t":-0.005,"v":1.0267},{"s":"TKH\\TKH50","t":0,"v":1.0502},{"s":"TKH\\TKH50","t":0.05,"v":1.0399},{"s":"TKH\\TKH50","t":0.2,"v":1.0135},{"s":"TKH\\TKH50","t":0.43,"v":0.9842},{"s":"TKH\\TKH50","t":0.51,"v":1.0059},{"s":"TKH\\TKH50","t":0.67,"v":1.0361},{"s":"TKH\\TKH50","t":0.79,"v":1.0351},{"s":"TKH\\TKH50","t":0.99,"v":1.0323},{"s":"TKH\\TKH50","t":1.0,"v":1.021},{"s":"TKH\\TKH50","t":1.3,"v":1.0097},{"s":"TKH\\TKH50","t":1.335,"v":1.0093},{"s":"TKH\\TKH50","t":1.345,"v":1.0248},{"s":"TKH\\TKH50","t":1.65,"v":1.0436},{"s":"TKH\\TKH50","t":1.97,"v":1.0568},{"s":"TKH\\TKH50","t":2.28,"v":1.0568},{"s":"TKH\\TKH50","t":2.52,"v":1.0591},{"s":"TKH\\TKH50","t":2.75,"v":1.0653},{"s":"TKH\\TKH50","t":2.99,"v":1.0615},{"s":"TKH\\TKH50","t":3.23,"v":1.0591},{"s":"TKH\\TKH50","t":3.54,"v":1.0606},{"s":"TKH\\TKH50","t":3.94,"v":1.0591},{"s":"TKH\\TKH50","t":4.57,"v":1.0597},{"s":"TKH\\TKH50","t":5.2,"v":1.061},{"s":"TKH\\TKH50","t":5.98,"v":1.0625},{"s":"TKH\\TKH50","t":7.0,"v":1.063},{"s":"TKH\\TKH50","t":7.87,"v":1.0628},{"s":"TKH\\TKH50","t":8.713,"v":1.0625},
{"s":"TGA\\TGA110","t":-0.094,"v":1.0361},{"s":"TGA\\TGA110","t":-0.005,"v":1.0361},{"s":"TGA\\TGA110","t":0,"v":1.071},{"s":"TGA\\TGA110","t":0.05,"v":1.0644},{"s":"TGA\\TGA110","t":0.2,"v":1.0436},{"s":"TGA\\TGA110","t":0.43,"v":1.0251},{"s":"TGA\\TGA110","t":0.51,"v":1.0399},{"s":"TGA\\TGA110","t":0.67,"v":1.0591},{"s":"TGA\\TGA110","t":0.79,"v":1.0549},{"s":"TGA\\TGA110","t":0.99,"v":1.0534},{"s":"TGA\\TGA110","t":1.0,"v":1.0342},{"s":"TGA\\TGA110","t":1.3,"v":1.0333},{"s":"TGA\\TGA110","t":1.335,"v":1.0333},{"s":"TGA\\TGA110","t":1.345,"v":1.0531},{"s":"TGA\\TGA110","t":1.65,"v":1.0653},{"s":"TGA\\TGA110","t":1.97,"v":1.0757},{"s":"TGA\\TGA110","t":2.28,"v":1.0791},{"s":"TGA\\TGA110","t":2.52,"v":1.0804},{"s":"TGA\\TGA110","t":2.75,"v":1.0842},{"s":"TGA\\TGA110","t":2.99,"v":1.0804},{"s":"TGA\\TGA110","t":3.23,"v":1.0761},{"s":"TGA\\TGA110","t":3.54,"v":1.0757},{"s":"TGA\\TGA110","t":3.94,"v":1.0738},{"s":"TGA\\TGA110","t":4.57,"v":1.0734},{"s":"TGA\\TGA110","t":5.2,"v":1.0738},{"s":"TGA\\TGA110","t":5.98,"v":1.0745},{"s":"TGA\\TGA110","t":7.0,"v":1.0747},{"s":"TGA\\TGA110","t":7.87,"v":1.0744},{"s":"TGA\\TGA110","t":8.713,"v":1.0738},
{"s":"MTM\\MTM110","t":-0.094,"v":1.0346},{"s":"MTM\\MTM110","t":-0.005,"v":1.0346},{"s":"MTM\\MTM110","t":0,"v":1.0704},{"s":"MTM\\MTM110","t":0.05,"v":1.0634},{"s":"MTM\\MTM110","t":0.2,"v":1.0432},{"s":"MTM\\MTM110","t":0.43,"v":1.0248},{"s":"MTM\\MTM110","t":0.51,"v":1.0389},{"s":"MTM\\MTM110","t":0.67,"v":1.0587},{"s":"MTM\\MTM110","t":0.79,"v":1.0546},{"s":"MTM\\MTM110","t":0.99,"v":1.0531},{"s":"MTM\\MTM110","t":1.0,"v":1.0338},{"s":"MTM\\MTM110","t":1.3,"v":1.0327},{"s":"MTM\\MTM110","t":1.335,"v":1.0327},{"s":"MTM\\MTM110","t":1.345,"v":1.0527},{"s":"MTM\\MTM110","t":1.65,"v":1.0647},{"s":"MTM\\MTM110","t":1.97,"v":1.0753},{"s":"MTM\\MTM110","t":2.28,"v":1.0787},{"s":"MTM\\MTM110","t":2.52,"v":1.08},{"s":"MTM\\MTM110","t":2.75,"v":1.0838},{"s":"MTM\\MTM110","t":2.99,"v":1.08},{"s":"MTM\\MTM110","t":3.23,"v":1.0757},{"s":"MTM\\MTM110","t":3.54,"v":1.0751},{"s":"MTM\\MTM110","t":3.94,"v":1.0732},{"s":"MTM\\MTM110","t":4.57,"v":1.0729},{"s":"MTM\\MTM110","t":5.2,"v":1.0732},{"s":"MTM\\MTM110","t":5.98,"v":1.0738},{"s":"MTM\\MTM110","t":7.0,"v":1.0742},{"s":"MTM\\MTM110","t":7.87,"v":1.0738},{"s":"MTM\\MTM110","t":8.713,"v":1.0732},
{"s":"OWH\\OWH110","t":-0.094,"v":1.0351},{"s":"OWH\\OWH110","t":-0.005,"v":1.0351},{"s":"OWH\\OWH110","t":0,"v":1.0753},{"s":"OWH\\OWH110","t":0.05,"v":1.0663},{"s":"OWH\\OWH110","t":0.2,"v":1.0446},{"s":"OWH\\OWH110","t":0.43,"v":1.0206},{"s":"OWH\\OWH110","t":0.51,"v":1.0361},{"s":"OWH\\OWH110","t":0.67,"v":1.0583},{"s":"OWH\\OWH110","t":0.79,"v":1.0546},{"s":"OWH\\OWH110","t":0.99,"v":1.0527},{"s":"OWH\\OWH110","t":1.0,"v":1.0342},{"s":"OWH\\OWH110","t":1.3,"v":1.0314},{"s":"OWH\\OWH110","t":1.335,"v":1.031},{"s":"OWH\\OWH110","t":1.345,"v":1.0521},{"s":"OWH\\OWH110","t":1.65,"v":1.0644},{"s":"OWH\\OWH110","t":1.97,"v":1.0738},{"s":"OWH\\OWH110","t":2.28,"v":1.0761},{"s":"OWH\\OWH110","t":2.52,"v":1.0785},{"s":"OWH\\OWH110","t":2.75,"v":1.0832},{"s":"OWH\\OWH110","t":2.99,"v":1.0794},{"s":"OWH\\OWH110","t":3.23,"v":1.0757},{"s":"OWH\\OWH110","t":3.54,"v":1.0757},{"s":"OWH\\OWH110","t":3.94,"v":1.0734},{"s":"OWH\\OWH110","t":4.57,"v":1.0734},{"s":"OWH\\OWH110","t":5.2,"v":1.0738},{"s":"OWH\\OWH110","t":5.98,"v":1.0747},{"s":"OWH\\OWH110","t":7.0,"v":1.0753},{"s":"OWH\\OWH110","t":7.87,"v":1.0753},{"s":"OWH\\OWH110","t":8.713,"v":1.0742}
]
},
"vconcat": [
{
 "hconcat": [
  {
   "width": 929, "height": 484,
   "layer": [
    {"data": {"name": "grid"}, "mark": {"type": "rule", "strokeDash": [13, 8], "color": "#555555", "strokeWidth": 1.5},
     "encoding": {"x": {"field": "g", "type": "quantitative"},
      "y": {"datum": 0.96, "type": "quantitative", "scale": {"domain": [0.96, 1.14], "range": [286.3, 25.7], "nice": false, "zero": false}, "axis": null},
      "y2": {"datum": 1.14}}},
    {"data": {"name": "q1"}, "mark": {"type": "line", "strokeWidth": 1.6},
     "encoding": {
      "x": {"field": "t", "type": "quantitative", "scale": {"domain": [-0.094, 8.713], "range": [128.5, 795], "nice": false, "zero": false},
            "axis": {"orient": "bottom", "offset": -197.7, "title": null, "values": [-0.094,0.7865,1.668,2.5485,3.429,4.3095,5.191,6.0715,6.952,7.8325,8.713], "labelExpr": "round((datum.value+0.094)/0.88065)==9 ? '[s]' : (round((datum.value+0.094)/0.88065)%2==0 ? replace(format(datum.value,'.3f'),'\u2212','-') : '')", "tickSize": {"condition": {"test": "round((datum.value+0.094)/0.88065)%2==0", "value": -10}, "value": -5}, "grid": false, "labelPadding": 19.5}},
      "y": {"field": "v", "type": "quantitative", "scale": {"domain": [0.96, 1.14], "range": [286.3, 25.7], "nice": false, "zero": false},
            "axis": {"orient": "left", "offset": -128.5, "title": null, "values": [0.96,0.975,0.99,1.005,1.02,1.035,1.05,1.065,1.08,1.095,1.11,1.125,1.14], "labelExpr": "round((datum.value-0.96)/0.015)%2==0 ? format(datum.value,'.2f') : ''", "tickSize": {"condition": {"test": "round((datum.value-0.96)/0.015)%2==0", "value": -10}, "value": -6}, "grid": true, "gridOpacity": {"condition": {"test": "round((datum.value-0.96)/0.015)%2==0", "value": 1}, "value": 0}, "labelPadding": 25}},
      "color": {"field": "s", "type": "nominal", "scale": {"domain": ["DAR\\DAR11","KEN\\KEN33","MDN\\MDN110","MDN\\MDN220","HEN\\HEN110","HEP\\HEP110A"], "range": ["#ff0000","#00e000","#0000ff","#808000","#00eeee","#ff00ff"]},
            "legend": {"title": null, "legendX": 128.7, "legendY": 319.5, "labelExpr": "datum.label + ': Voltage, Magnitude in p.u.'"}}
     }},
    {"data": {"name": "grid"}, "mark": {"type": "point", "opacity": 0},
     "encoding": {"y": {"datum": 0, "type": "quantitative", "scale": {"domain": [0, 1], "range": [286.3, 25.7], "nice": false},
       "axis": {"orient": "right", "offset": -134, "title": null, "values": [0,0.1,0.2,0.3,0.4,0.5,0.6,0.7,0.8,0.9,1], "labelExpr": "round(datum.value*10)%2==0 ? format(datum.value,'.2f') : ''", "tickSize": {"condition": {"test": "round(datum.value*10)%2==0", "value": -12}, "value": -6}, "grid": false, "labelPadding": 19}}}}
   ],
   "resolve": {"scale": {"y": "independent"}, "axis": {"y": "independent"}}
  },
  {
   "width": 929, "height": 484,
   "title": {"text": "DIgSILENT", "orient": "right", "anchor": "start", "angle": 270, "align": "right", "baseline": "middle", "offset": 0, "dx": -8, "dy": -16, "fontSize": 10, "fontWeight": "bold", "color": "#333333", "frame": "group"},
   "layer": [
    {"data": {"name": "grid"}, "mark": {"type": "rule", "strokeDash": [13, 8], "color": "#555555", "strokeWidth": 1.5},
     "encoding": {"x": {"field": "g", "type": "quantitative"},
      "y": {"datum": 1.0125, "type": "quantitative", "scale": {"domain": [1.0125, 1.0875], "range": [286.3, 25.7], "nice": false, "zero": false}, "axis": null},
      "y2": {"datum": 1.0875}}},
    {"data": {"name": "q2"}, "mark": {"type": "line", "strokeWidth": 1.6},
     "encoding": {
      "x": {"field": "t", "type": "quantitative", "scale": {"domain": [-0.094, 8.713], "range": [128.7, 794.5], "nice": false, "zero": false},
            "axis": {"orient": "bottom", "offset": -197.7, "title": null, "values": [-0.094,0.7865,1.668,2.5485,3.429,4.3095,5.191,6.0715,6.952,7.8325,8.713], "labelExpr": "round((datum.value+0.094)/0.88065)==9 ? '[s]' : (round((datum.value+0.094)/0.88065)%2==0 ? replace(format(datum.value,'.3f'),'\u2212','-') : '')", "tickSize": {"condition": {"test": "round((datum.value+0.094)/0.88065)%2==0", "value": -10}, "value": -5}, "grid": false, "labelPadding": 19.5}},
      "y": {"field": "v", "type": "quantitative", "scale": {"domain": [1.0125, 1.0875], "range": [286.3, 25.7], "nice": false, "zero": false},
            "axis": {"orient": "left", "offset": -128.7, "title": null, "values": [1.0125,1.01875,1.025,1.03125,1.0375,1.04375,1.05,1.05625,1.0625,1.06875,1.075,1.08125,1.0875], "labelExpr": "round((datum.value-1.0125)/0.00625)%2==0 ? format(datum.value,'.4f') : ''", "tickSize": {"condition": {"test": "round((datum.value-1.0125)/0.00625)%2==0", "value": -10}, "value": -6}, "grid": true, "gridOpacity": {"condition": {"test": "round((datum.value-1.0125)/0.00625)%2==0", "value": 1}, "value": 0}, "labelPadding": 26}},
      "color": {"field": "s", "type": "nominal", "scale": {"domain": ["ROS\\ROS110","BOB\\BOB110","PEN\\PEN220","OTA\\OTA220","OTA\\OTA110-2","OTA\\OTA110-1"], "range": ["#ff0000","#00e000","#0000ff","#808000","#00eeee","#ff00ff"]},
            "legend": {"title": null, "legendX": 128.7, "legendY": 319.5, "labelExpr": "datum.label + ': Voltage, Magnitude in p.u.'"}}
     }},
    {"data": {"name": "grid"}, "mark": {"type": "point", "opacity": 0},
     "encoding": {"y": {"datum": 0, "type": "quantitative", "scale": {"domain": [0, 1], "range": [286.3, 25.7], "nice": false},
       "axis": {"orient": "right", "offset": -134.5, "title": null, "values": [0,0.1,0.2,0.3,0.4,0.5,0.6,0.7,0.8,0.9,1], "labelExpr": "round(datum.value*10)%2==0 ? format(datum.value,'.2f') : ''", "tickSize": {"condition": {"test": "round(datum.value*10)%2==0", "value": -12}, "value": -6}, "grid": false, "labelPadding": 19}}}}
   ],
   "resolve": {"scale": {"y": "independent"}, "axis": {"y": "independent"}}
  }
 ],
 "spacing": 0, "bounds": "flush",
 "resolve": {"scale": {"color": "independent"}, "legend": {"color": "independent"}}
},
{
 "hconcat": [
  {
   "width": 929, "height": 484,
   "layer": [
    {"data": {"name": "grid"}, "mark": {"type": "rule", "strokeDash": [13, 8], "color": "#555555", "strokeWidth": 1.5},
     "encoding": {"x": {"field": "g", "type": "quantitative"},
      "y": {"datum": 1.0, "type": "quantitative", "scale": {"domain": [1.0, 1.1], "range": [286.3, 25.7], "nice": false, "zero": false}, "axis": null},
      "y2": {"datum": 1.1}}},
    {"data": {"name": "q3"}, "mark": {"type": "line", "strokeWidth": 1.6},
     "encoding": {
      "x": {"field": "t", "type": "quantitative", "scale": {"domain": [-0.094, 8.713], "range": [128.5, 795], "nice": false, "zero": false},
            "axis": {"orient": "bottom", "offset": -197.7, "title": null, "values": [-0.094,0.7865,1.668,2.5485,3.429,4.3095,5.191,6.0715,6.952,7.8325,8.713], "labelExpr": "round((datum.value+0.094)/0.88065)==9 ? '[s]' : (round((datum.value+0.094)/0.88065)%2==0 ? replace(format(datum.value,'.3f'),'\u2212','-') : '')", "tickSize": {"condition": {"test": "round((datum.value+0.094)/0.88065)%2==0", "value": -10}, "value": -5}, "grid": false, "labelPadding": 19.5}},
      "y": {"field": "v", "type": "quantitative", "scale": {"domain": [1.0, 1.1], "range": [286.3, 25.7], "nice": false, "zero": false},
            "axis": {"orient": "left", "offset": -128.5, "title": null, "values": [1.0,1.01,1.02,1.03,1.04,1.05,1.06,1.07,1.08,1.09,1.1], "labelExpr": "round((datum.value-1.0)/0.01)%2==0 ? format(datum.value,'.2f') : ''", "tickSize": {"condition": {"test": "round((datum.value-1.0)/0.01)%2==0", "value": -10}, "value": -6}, "grid": true, "gridOpacity": {"condition": {"test": "round((datum.value-1.0)/0.01)%2==0", "value": 1}, "value": 0}, "labelPadding": 25}},
      "color": {"field": "s", "type": "nominal", "scale": {"domain": ["KIN\\KIN110","TWH\\TWH220","HAM\\HAM110","KPU\\KPU110-1","HIN\\HIN110","TMU\\TMU110"], "range": ["#ff0000","#00e000","#0000ff","#808000","#00eeee","#ff00ff"]},
            "legend": {"title": null, "legendX": 128.7, "legendY": 319.5, "labelExpr": "datum.label + ': Voltage, Magnitude in p.u.'"}}
     }},
    {"data": {"name": "grid"}, "mark": {"type": "point", "opacity": 0},
     "encoding": {"y": {"datum": 0, "type": "quantitative", "scale": {"domain": [0, 1], "range": [286.3, 25.7], "nice": false},
       "axis": {"orient": "right", "offset": -134, "title": null, "values": [0,0.1,0.2,0.3,0.4,0.5,0.6,0.7,0.8,0.9,1], "labelExpr": "round(datum.value*10)%2==0 ? format(datum.value,'.2f') : ''", "tickSize": {"condition": {"test": "round(datum.value*10)%2==0", "value": -12}, "value": -6}, "grid": false, "labelPadding": 19}}}}
   ],
   "resolve": {"scale": {"y": "independent"}, "axis": {"y": "independent"}}
  },
  {
   "width": 929, "height": 484,
   "layer": [
    {"data": {"name": "grid"}, "mark": {"type": "rule", "strokeDash": [13, 8], "color": "#555555", "strokeWidth": 1.5},
     "encoding": {"x": {"field": "g", "type": "quantitative"},
      "y": {"datum": 0.975, "type": "quantitative", "scale": {"domain": [0.975, 1.1], "range": [260.7, 25.7], "nice": false, "zero": false}, "axis": null},
      "y2": {"datum": 1.1}}},
    {"data": {"name": "q4"}, "mark": {"type": "line", "strokeWidth": 1.6},
     "encoding": {
      "x": {"field": "t", "type": "quantitative", "scale": {"domain": [-0.094, 8.713], "range": [128.7, 794.5], "nice": false, "zero": false},
            "axis": {"orient": "bottom", "offset": -223.3, "title": null, "values": [-0.094,0.7865,1.668,2.5485,3.429,4.3095,5.191,6.0715,6.952,7.8325,8.713], "labelExpr": "round((datum.value+0.094)/0.88065)==9 ? '[s]' : (round((datum.value+0.094)/0.88065)%2==0 ? replace(format(datum.value,'.3f'),'\u2212','-') : '')", "tickSize": {"condition": {"test": "round((datum.value+0.094)/0.88065)%2==0", "value": -10}, "value": -5}, "grid": false, "labelPadding": 19.5}},
      "y": {"field": "v", "type": "quantitative", "scale": {"domain": [0.975, 1.1], "range": [260.7, 25.7], "nice": false, "zero": false},
            "axis": {"orient": "left", "offset": -128.7, "title": null, "values": [0.975,0.9875,1.0,1.0125,1.025,1.0375,1.05,1.0625,1.075,1.0875,1.1], "labelExpr": "round((datum.value-0.975)/0.0125)%2==0 ? format(datum.value,'.3f') : ''", "tickSize": {"condition": {"test": "round((datum.value-0.975)/0.0125)%2==0", "value": -10}, "value": -6}, "grid": true, "gridOpacity": {"condition": {"test": "round((datum.value-0.975)/0.0125)%2==0", "value": 1}, "value": 0}, "labelPadding": 26}},
      "color": {"field": "s", "type": "nominal", "scale": {"domain": ["ATI\\ATI220","TRK\\TRK110","EDG\\EDG220","TKH\\TKH50","TGA\\TGA110","MTM\\MTM110","OWH\\OWH110"], "range": ["#ff0000","#00e000","#0000ff","#808000","#00eeee","#ff00ff","#808080"]},
            "legend": {"title": null, "legendX": 128.7, "legendY": 293.8, "labelExpr": "datum.label + ': Voltage, Magnitude in p.u.'"}}
     }},
    {"data": {"name": "grid"}, "mark": {"type": "point", "opacity": 0},
     "encoding": {"y": {"datum": 0, "type": "quantitative", "scale": {"domain": [0, 1], "range": [260.7, 25.7], "nice": false},
       "axis": {"orient": "right", "offset": -134.5, "title": null, "values": [0,0.1,0.2,0.3,0.4,0.5,0.6,0.7,0.8,0.9,1], "labelExpr": "round(datum.value*10)%2==0 ? format(datum.value,'.2f') : ''", "tickSize": {"condition": {"test": "round(datum.value*10)%2==0", "value": -12}, "value": -6}, "grid": false, "labelPadding": 19}}}}
   ],
   "resolve": {"scale": {"y": "independent"}, "axis": {"y": "independent"}}
  }
 ],
 "spacing": 0, "bounds": "flush",
 "resolve": {"scale": {"color": "independent"}, "legend": {"color": "independent"}}
},
{
 "hconcat": [
  {"width": 244, "height": 74,
   "layer": [{"data": {"values": [{"label": "", "c": "l", "r": "a"}]}, "mark": {"type": "text"},
     "encoding": {"text": {"field": "label"},
      "x": {"field": "c", "type": "nominal", "scale": {"domain": ["l", "r"], "padding": 0}, "axis": null},
      "y": {"field": "r", "type": "nominal", "scale": {"domain": ["a", "b"], "padding": 0.6935}, "axis": null}}}]},
  {"width": 1394, "height": 74,
   "layer": [{"data": {"values": [{"label": "vplot_1", "c": "r", "r": "a"}]}, "mark": {"type": "text", "align": "right", "baseline": "alphabetic", "dx": -18, "font": "DejaVu Sans", "fontSize": 19, "color": "#000000"},
     "encoding": {"text": {"field": "label"},
      "x": {"field": "c", "type": "nominal", "scale": {"domain": ["l", "r"], "padding": 0}, "axis": null},
      "y": {"field": "r", "type": "nominal", "scale": {"domain": ["a", "b"], "padding": 0.6935}, "axis": null}}}]},
  {"width": 220, "height": 74,
   "layer": [{"data": {"values": [{"label": "Date:\u00a0 2/24/2010", "c": "l", "r": "a"}, {"label": "Annex:\u00a0\u00a0 /4", "c": "l", "r": "b"}]}, "mark": {"type": "text", "align": "left", "baseline": "alphabetic", "dx": 6, "font": "DejaVu Sans", "fontSize": 19, "color": "#000000"},
     "encoding": {"text": {"field": "label"},
      "x": {"field": "c", "type": "nominal", "scale": {"domain": ["l", "r"], "padding": 0}, "axis": null},
      "y": {"field": "r", "type": "nominal", "scale": {"domain": ["a", "b"], "padding": 0.6935}, "axis": null}}}]}
 ],
 "spacing": 0, "bounds": "flush",
 "resolve": {"scale": {"x": "independent", "y": "independent"}}
}
],
"spacing": -2,
"resolve": {"scale": {"color": "independent"}, "legend": {"color": "independent"}}
}
